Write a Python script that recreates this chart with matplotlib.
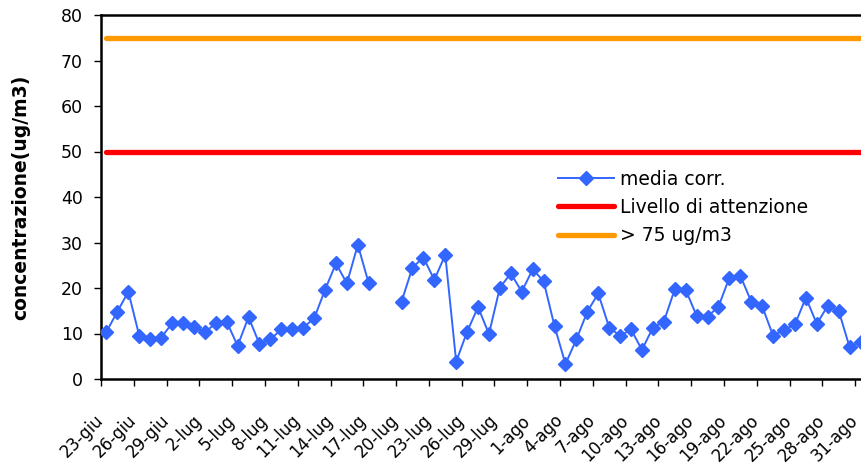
import numpy as np
import matplotlib
matplotlib.use("Agg")
import matplotlib.pyplot as plt
import matplotlib.transforms as mtransforms

# daily values 23-giu .. 31-ago (nan = missing day)
media_corr = [10.4, 14.8, 19.2, 9.5, 8.7, 9.1, 12.2, 12.2, 11.4, 10.3,
              12.2, 12.6, 7.3, 13.6, 7.7, 8.7, 10.9, 10.9, 11.3, 13.3,
              19.6, 25.4, 21.0, 29.5, 21.0, np.nan, np.nan, 17.0, 24.5, 26.7,
              21.8, 27.3, 3.8, 10.4, 15.8, 9.9, 20.1, 23.2, 19.2, 24.1,
              21.5, 11.6, 3.3, 8.7, 14.8, 18.8, 11.3, 9.5, 10.9, 6.4,
              11.3, 12.6, 19.7, 19.6, 13.9, 13.7, 15.9, 22.3, 22.7, 17.0,
              16.0, 9.5, 10.8, 12.0, 17.9, 12.1, 16.1, 15.0, 7.0, 8.2]
livello_attenzione = 50
soglia_75 = 75

tick_labels = ["23-giu", "26-giu", "29-giu", "2-lug", "5-lug", "8-lug",
               "11-lug", "14-lug", "17-lug", "20-lug", "23-lug", "26-lug",
               "29-lug", "1-ago", "4-ago", "7-ago", "10-ago", "13-ago",
               "16-ago", "19-ago", "22-ago", "25-ago", "28-ago", "31-ago"]

n = len(media_corr)
x = np.arange(n)

plt.rcParams['font.family'] = ['DejaVu Sans']
fig = plt.figure(figsize=(8.61, 4.70), dpi=100)
# plot area runs a little past the right edge of the picture
ax = fig.add_axes([101 / 861, 91 / 470, 765 / 861, 364 / 470])

ax.plot(x, [livello_attenzione] * n, color='#FF0000', lw=3.8,
        solid_capstyle='round', label='Livello di attenzione', zorder=2)
ax.plot(x, [soglia_75] * n, color='#FF9900', lw=3.8,
        solid_capstyle='round', label='> 75 ug/m3', zorder=2)
ax.plot(x, media_corr, color='#3366FF', lw=1.4, marker='D', markersize=7.5,
        markeredgecolor='#3366FF', markerfacecolor='#3366FF',
        label='media corr.', zorder=3)

ax.set_xlim(-0.5, n - 0.5)
ax.set_ylim(0, 80)
ax.set_yticks(range(0, 81, 10))
ax.tick_params(axis='y', labelsize=12.5, length=5, width=1, direction='out',
               pad=8)

ax.set_xticks(x[::3])
ax.set_xticklabels(tick_labels, rotation=45, ha='right',
                   rotation_mode='anchor', fontsize=12)
ax.set_xticks(np.arange(-0.5, n, 3), minor=True)
ax.tick_params(axis='x', which='major', length=0, pad=19)
ax.tick_params(axis='x', which='minor', length=5, width=1, direction='out')

# nudge the slanted date labels left and down
shift = mtransforms.ScaledTranslation(-12 / 100, -6 / 100, fig.dpi_scale_trans)
for lab in ax.get_xticklabels():
    lab.set_transform(lab.get_transform() + shift)

for side in ax.spines.values():
    side.set_linewidth(1.8)
ax.spines['right'].set_visible(False)

ax.set_ylabel('concentrazione(ug/m3)', fontsize=13.5, fontweight='bold',
              labelpad=22)

handles, labels = ax.get_legend_handles_labels()
order = [2, 0, 1]
ax.legend([handles[i] for i in order], [labels[i] for i in order],
          loc='upper left', bbox_to_anchor=(0.588, 0.596), frameon=False,
          fontsize=13.5, handlelength=2.95, handletextpad=0.35,
          labelspacing=0.5, borderaxespad=0)

fig.savefig('out.png', dpi=100)
